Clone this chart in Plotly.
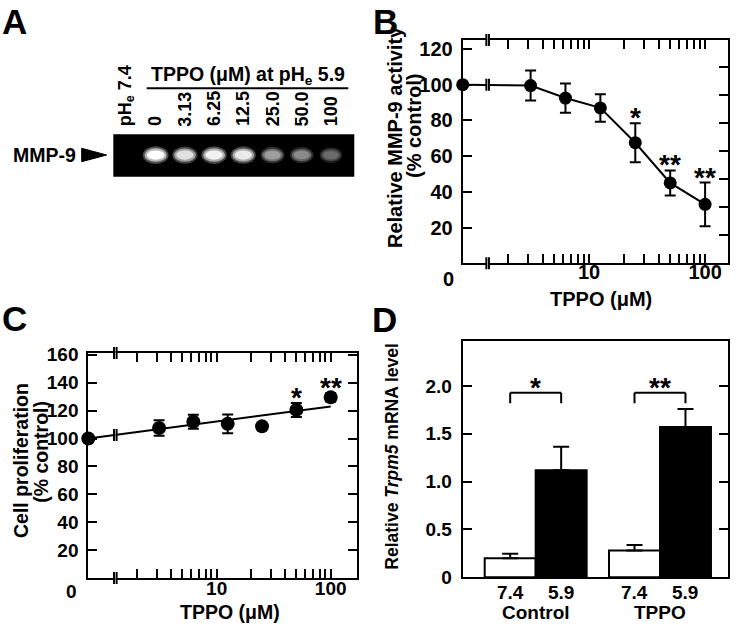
import math
import plotly.graph_objects as go

W, H = 736, 625
def fx(p): return p / W
def fy(p): return 1 - p / H

FONT = "Liberation Sans, Arial, Helvetica, sans-serif"

# ---------------- data ----------------
gel_lanes = ["pH<sub>e</sub> 7.4", "0", "3.13", "6.25", "12.5", "25.0", "50.0", "100"]
gel_band = [0.0, 1.0, 0.88, 0.95, 0.92, 0.62, 0.54, 0.42]

conc = [0, 3.13, 6.25, 12.5, 25.0, 50.0, 100]
mmp9_mean = [100, 99.5, 92.5, 87.0, 67.5, 45.0, 33.0]
mmp9_sem = [0, 8.4, 8.2, 7.7, 10.9, 7.0, 12.2]
mmp9_sig = ["", "", "", "", "*", "**", "**"]

prolif_mean = [100, 107.5, 112.0, 110.5, 108.7, 120.5, 129.5]
prolif_sem = [0, 5.5, 5.0, 6.8, 2.0, 5.0, 3.0]
prolif_sig = ["", "", "", "", "", "*", "**"]
prolif_fit_conc = [0, 100]
prolif_fit = [100, 123]

trpm5_groups = ["Control", "TPPO"]
ph_labels = ["7.4", "5.9"]
trpm5_ph74 = [0.20, 0.28]
trpm5_ph74_err = [0.045, 0.058]
trpm5_ph59 = [1.12, 1.57]
trpm5_ph59_err = [0.245, 0.19]
trpm5_sig = ["*", "**"]

log_major = [10, 100]
log_minor = [2, 3, 4, 5, 6, 7, 8, 9, 20, 30, 40, 50, 60, 70, 80, 90]

# ---------------- geometry ----------------
B_RANGE = [-0.09, 2.20]
C_RANGE = [-0.125, 2.228]
B_BREAK = 1.3
C_BREAK = 1.26
ZERO_B = 10 ** B_RANGE[0]
ZERO_C = 10 ** C_RANGE[0]
BARGAP = 0.18

def disp_x(c, zero):
    return zero if c == 0 else c

fig = go.Figure()

# ---------------- panel B ----------------
fig.add_trace(go.Scatter(
    x=[disp_x(c, ZERO_B) for c in conc], y=mmp9_mean,
    mode="lines+markers", xaxis="x", yaxis="y", cliponaxis=False,
    line=dict(color="black", width=2),
    marker=dict(color="black", size=13),
    error_y=dict(type="data", array=mmp9_sem, color="black", thickness=2, width=5.5),
    showlegend=False, hoverinfo="skip"))
fig.add_trace(go.Scatter(x=[10], y=[0], xaxis="x", yaxis="y5", mode="markers",
                         marker=dict(opacity=0), showlegend=False, hoverinfo="skip"))

# ---------------- panel C ----------------
fig.add_trace(go.Scatter(
    x=[disp_x(c, ZERO_C) for c in prolif_fit_conc], y=prolif_fit,
    mode="lines", xaxis="x2", yaxis="y2", cliponaxis=False,
    line=dict(color="black", width=2), showlegend=False, hoverinfo="skip"))
fig.add_trace(go.Scatter(
    x=[disp_x(c, ZERO_C) for c in conc], y=prolif_mean,
    mode="markers", xaxis="x2", yaxis="y2", cliponaxis=False,
    marker=dict(color="black", size=14),
    error_y=dict(type="data", array=prolif_sem, color="black", thickness=2, width=5.5),
    showlegend=False, hoverinfo="skip"))

# ---------------- panel D ----------------
fig.add_trace(go.Bar(
    x=trpm5_groups, y=trpm5_ph74, name="7.4", xaxis="x3", yaxis="y3",
    marker=dict(color="white", line=dict(color="black", width=2)),
    error_y=dict(type="data", array=trpm5_ph74_err, arrayminus=[0] * len(trpm5_groups),
                 symmetric=False, color="black", thickness=2, width=8),
    showlegend=False, hoverinfo="skip"))
fig.add_trace(go.Bar(
    x=trpm5_groups, y=trpm5_ph59, name="5.9", xaxis="x3", yaxis="y3",
    marker=dict(color="black", line=dict(color="black", width=2)),
    error_y=dict(type="data", array=trpm5_ph59_err, arrayminus=[0] * len(trpm5_groups),
                 symmetric=False, color="black", thickness=2, width=8),
    showlegend=False, hoverinfo="skip"))

# ---------------- panel A (gel) helper axis ----------------
fig.add_trace(go.Scatter(x=list(range(len(gel_lanes))), y=[0.5] * len(gel_lanes),
                         xaxis="x4", yaxis="y4", mode="markers",
                         marker=dict(opacity=0), showlegend=False, hoverinfo="skip"))

axis_common = dict(showgrid=False, zeroline=False, showline=True, linecolor="black",
                   linewidth=2, ticks="inside", tickcolor="black", tickwidth=2, ticklen=9,
                   automargin=False)
minor_log = dict(tickvals=log_minor, ticks="inside", ticklen=9, tickwidth=2,
                 tickcolor="black", showgrid=False)

layout = dict(
    width=W, height=H, autosize=False,
    margin=dict(l=0, r=0, t=0, b=0, pad=0),
    paper_bgcolor="white", plot_bgcolor="white",
    font=dict(family=FONT, size=19, color="black", weight="bold"),
    barmode="group", bargap=BARGAP, bargroupgap=0,
    xaxis=dict(axis_common, type="log", range=B_RANGE, domain=[fx(462.7), fx(728.3)],
               anchor="y", tickvals=log_major, ticktext=[str(v) for v in log_major],
               minor=minor_log, mirror="allticks",
               tickfont=dict(size=20), ticklabelstandoff=-10),
    yaxis=dict(axis_common, range=[0, 125], domain=[fy(263.3), fy(40)], anchor="x",
               tickvals=[20, 40, 60, 80, 100, 120], mirror=False,
               tickfont=dict(size=20), ticklabelstandoff=4),
    yaxis5=dict(axis_common, range=[0, 159], overlaying="y", side="right", anchor="x",
                tickvals=[20, 40, 60, 80, 100, 120, 140], showticklabels=False),
    xaxis2=dict(axis_common, type="log", range=C_RANGE, domain=[fx(88.3), fx(356.7)],
                anchor="y2", tickvals=log_major, ticktext=[str(v) for v in log_major],
                minor=minor_log, mirror="allticks", ticklabelstandoff=-8),
    yaxis2=dict(axis_common, range=[0, 161.3], domain=[fy(578), fy(353)], anchor="x2",
                tickvals=[20, 40, 60, 80, 100, 120, 140, 160], mirror="ticks",
                ticklabelstandoff=4),
    xaxis3=dict(axis_common, type="category", range=[-0.587, 1.547],
                domain=[fx(462.7), fx(728)], anchor="y3", ticks="", showticklabels=False,
                mirror=True),
    yaxis3=dict(axis_common, range=[0, 2.47], domain=[fy(577.3), fy(341)], anchor="x3",
                tickvals=[0, 0.5, 1.0, 1.5, 2.0], ticktext=["0", "0.5", "1.0", "1.5", "2.0"],
                mirror="ticks", ticklabelstandoff=5),
    xaxis4=dict(visible=False, range=[-0.45, 7.8], domain=[fx(113.3), fx(354.3)], anchor="y4"),
    yaxis4=dict(visible=False, range=[0, 1], domain=[fy(176.7), fy(134.3)], anchor="x4"),
)
fig.update_layout(**layout)

shapes = []
annotations = []

def ann(text, x, y, size=19, xanchor="center", yanchor="middle", angle=0,
        xref="paper", yref="paper", **kw):
    annotations.append(dict(text=text, x=x, y=y, xref=xref, yref=yref, showarrow=False,
                            xanchor=xanchor, yanchor=yanchor, textangle=angle,
                            font=dict(family=FONT, size=size, color="black", weight="bold"),
                            **kw))

def break_mark(xref, xval, yref, yanchor):
    base = dict(xref=xref, xsizemode="pixel", xanchor=xval, yref=yref,
                ysizemode="pixel", yanchor=yanchor, layer="above")
    shapes.append(dict(type="rect", x0=-1.6, x1=1.6, y0=-2.5, y1=2.5,
                       fillcolor="white", line=dict(width=0), **base))
    for dx in (-2.6, 2.6):
        shapes.append(dict(type="line", x0=dx, x1=dx, y0=-6, y1=6,
                           line=dict(color="black", width=2), **base))

# breaks, panel B
break_mark("x", B_BREAK, "y domain", 0)
break_mark("x", B_BREAK, "y domain", 1)
break_mark("x", B_BREAK, "y", mmp9_mean[0])
# breaks, panel C
break_mark("x2", C_BREAK, "y2 domain", 0)
break_mark("x2", C_BREAK, "y2 domain", 1)
t = (math.log10(C_BREAK) - C_RANGE[0]) / (math.log10(prolif_fit_conc[1]) - C_RANGE[0])
break_mark("x2", C_BREAK, "y2", prolif_fit[0] + t * (prolif_fit[1] - prolif_fit[0]))

STAR = 28
STAR_SHIFT = 5.5
# stars B
for c, m, s, sig in zip(conc, mmp9_mean, mmp9_sem, mmp9_sig):
    if sig:
        ann(sig, math.log10(c), m + s, size=STAR, xref="x", yref="y", yshift=STAR_SHIFT)
# stars C
for c, m, s, sig in zip(conc, prolif_mean, prolif_sem, prolif_sig):
    if sig:
        ann(sig, math.log10(c), m + s, size=STAR, xref="x2", yref="y2", yshift=STAR_SHIFT)

# brackets D
half = (1 - BARGAP) / 4
BRACKET_Y = 1.93
BRACKET_LEG = 0.11
for gi, sig in enumerate(trpm5_sig):
    xl, xr = gi - half, gi + half
    for (a, b, c, d) in [(xl, BRACKET_Y, xr, BRACKET_Y),
                         (xl, BRACKET_Y - BRACKET_LEG, xl, BRACKET_Y),
                         (xr, BRACKET_Y - BRACKET_LEG, xr, BRACKET_Y)]:
        shapes.append(dict(type="line", xref="x3", yref="y3", x0=a, y0=b, x1=c, y1=d,
                           line=dict(color="black", width=2)))
    ann(sig, gi, BRACKET_Y, size=STAR, xref="x3", yref="y3", yshift=STAR_SHIFT)
    for k, ph in enumerate(ph_labels):
        ann(ph, gi + (k * 2 - 1) * half, fy(592), xref="x3")
    ann(trpm5_groups[gi], gi, fy(612), xref="x3")

# axis titles
ann("TPPO (μM)", fx(601), fy(299), size=20)
ann("0", fx(448), fy(279), size=20)
ann("Relative MMP-9 activity", fx(395), fy(137), size=20, angle=-90)
ann("(% control)", fx(414), fy(126), size=20, angle=-90)

ann("TPPO (μM)", fx(230), fy(611.5), size=19.5)
ann("0", fx(71), fy(591), size=19)
ann("Cell proliferation", fx(21), fy(461), size=19.5, angle=-90)
ann("(% control)", fx(40.8), fy(452), size=19.5, angle=-90)

ann("Relative <i>Trpm5</i> mRNA level", fx(391.7), fy(456), size=17.5, angle=-90)

# panel letters
for letter, x, y in [("A", 0, 0), ("B", 371, 0), ("C", 0, 297), ("D", 370, 298)]:
    ann(letter, fx(x), fy(y), size=35, xanchor="left", yanchor="top")

# ---------------- gel ----------------
shapes.append(dict(type="rect", xref="x4 domain", yref="y4 domain", x0=0, x1=1, y0=0, y1=1,
                   fillcolor="black", line=dict(width=0), layer="above"))
BAND_Y = 0.51
for i, v in enumerate(gel_band):
    if v <= 0:
        continue
    g = int(round(255 * v))
    col = f"rgb({g},{g},{g})"
    for hw, hh, op in [(0.44, 0.21, 0.30), (0.38, 0.16, 0.6), (0.30, 0.11, 1.0)]:
        k = 0.8 + 0.2 * v
        shapes.append(dict(type="circle", xref="x4", yref="y4",
                           x0=i - hw * k, x1=i + hw * k,
                           y0=BAND_Y - hh * k, y1=BAND_Y + hh * k,
                           fillcolor=col, opacity=op, line=dict(width=0), layer="above"))
for i, lab in enumerate(gel_lanes):
    ann(lab, i, fy(128.3), size=18, xref="x4", yanchor="bottom", angle=-90)

ann("TPPO (μM) at pH<sub>e</sub> 5.9", fx(247.5), fy(75), size=19.5)
shapes.append(dict(type="line", xref="paper", yref="paper", x0=fx(146.7), x1=fx(348.3),
                   y0=fy(88.3), y1=fy(88.3), line=dict(color="black", width=2)))
ann("MMP-9", fx(44.7), fy(155), size=19.5)
shapes.append(dict(type="path", xref="paper", yref="paper",
                   path=f"M {fx(81.7)} {fy(148.3)} L {fx(81.7)} {fy(161.7)} L {fx(106.7)} {fy(155)} Z",
                   fillcolor="black", line=dict(color="black", width=1)))

fig.update_layout(shapes=shapes, annotations=annotations)
fig.write_html("out.html", config={"displayModeBar": False},
               post_script="document.body.style.margin='0';")
